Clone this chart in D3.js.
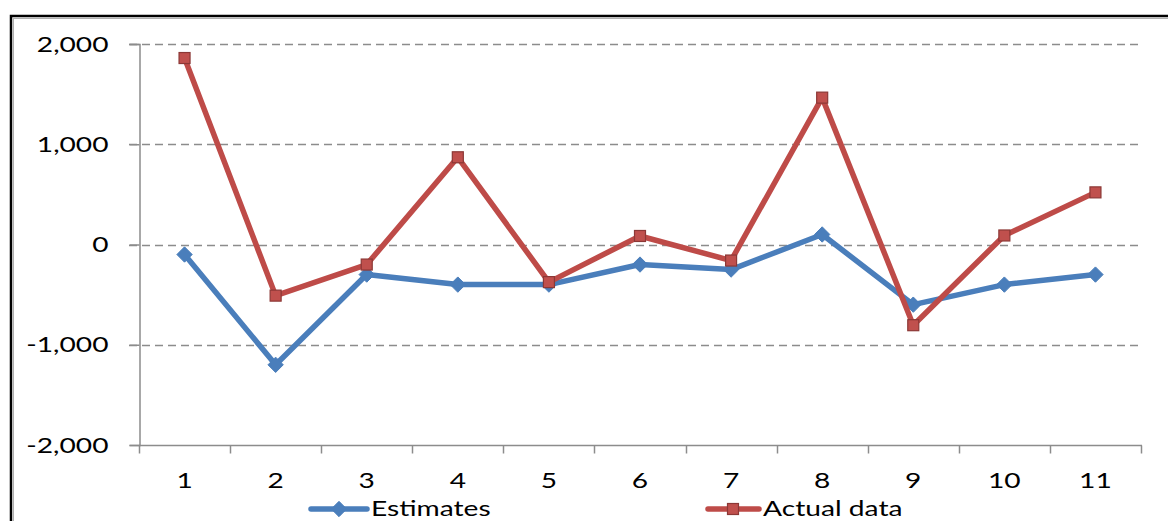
<!DOCTYPE html>
<html>
<head>
<meta charset="utf-8">
<script src="https://cdn.jsdelivr.net/npm/d3@7/dist/d3.min.js"></script>
<style>
  html, body { margin: 0; padding: 0; background: #fff; }
  svg { display: block; }
  text { font-family: Lato, "Open Sans", sans-serif; fill: #000; }
</style>
</head>
<body>
<svg id="chart" width="1168" height="521"></svg>
<script>
// Periods on the horizontal axis
const periods = ["1", "2", "3", "4", "5", "6", "7", "8", "9", "10", "11"];
// Estimated values per period
const estimates = [-100, -1200, -300, -400, -400, -200, -250, 100, -600, -400, -300];
// Observed values per period
const actualData = [1860, -510, -200, 870, -375, 85, -160, 1465, -805, 90, 520];
// Value axis ticks
const yTicks = [-2000, -1000, 0, 1000, 2000];
// Legend entries
const seriesNames = ["Estimates", "Actual data"];

const svg = d3.select("#chart");
const W = 1168, H = 521;
const stretch = 1.28; // horizontal widening of text glyphs

// Outer frame (runs past the right and bottom edges)
svg.append("rect").attr("x", 11).attr("y", 16).attr("width", W + 20).attr("height", H + 20)
  .attr("fill", "#fff").attr("stroke", "#000").attr("stroke-width", 2.5);
svg.append("rect").attr("x", 13.5).attr("y", 18.5).attr("width", W + 20).attr("height", H + 20)
  .attr("fill", "none").attr("stroke", "#b0b0b0").attr("stroke-width", 1);

const x = d3.scaleBand().domain(periods).range([139, 1141]).padding(0);
const y = d3.scaleLinear().domain([-2000, 2000]).range([445, 44]);

// Thousands separator with a plain hyphen for negatives
const fmt = d => d3.format(",")(d).replace("\u2212", "-");

// Dashed horizontal gridlines
svg.append("g").selectAll("line").data(yTicks.filter(d => d !== -2000)).join("line")
  .attr("x1", 129).attr("x2", 1142)
  .attr("y1", d => Math.round(y(d)) + 0.5).attr("y2", d => Math.round(y(d)) + 0.5)
  .attr("stroke", "#8c8c8c").attr("stroke-width", 1.5).attr("stroke-dasharray", "8,5");

// Y axis
const yAxis = svg.append("g").attr("transform", "translate(139.5,0)")
  .call(d3.axisLeft(y).tickValues(yTicks).tickSize(10).tickPadding(21).tickFormat(fmt));
yAxis.select(".domain").attr("stroke", "#8c8c8c").attr("stroke-width", 1.5);
yAxis.selectAll(".tick line").attr("stroke", "#8c8c8c").attr("stroke-width", 1.5);
yAxis.selectAll("text").attr("font-size", 22).attr("font-family", "Lato").attr("fill", "#000");

// X axis with ticks on band boundaries
const xAxisG = svg.append("g").attr("transform", "translate(0,445.5)");
xAxisG.append("line").attr("x1", 139).attr("x2", 1142).attr("stroke", "#8c8c8c").attr("stroke-width", 1.5);
const boundaries = periods.map(p => x(p)).concat([x.range()[1]]);
xAxisG.selectAll(".bt").data(boundaries).join("line").attr("class", "bt")
  .attr("x1", d => Math.round(d) + 0.5).attr("x2", d => Math.round(d) + 0.5)
  .attr("y1", 0).attr("y2", 8).attr("stroke", "#8c8c8c").attr("stroke-width", 1.5);
xAxisG.selectAll(".lbl").data(periods).join("text").attr("class", "lbl")
  .attr("x", d => x(d) + x.bandwidth() / 2).attr("y", 42)
  .attr("text-anchor", "middle").attr("font-size", 22).text(d => d);

const blue = "#4a7ebb", red = "#be4b48";
const line = d3.line().x((d, i) => x(periods[i]) + x.bandwidth() / 2).y(d => y(d));

// Estimates series
svg.append("path").datum(estimates).attr("d", line).attr("fill", "none")
  .attr("stroke", blue).attr("stroke-width", 5.5).attr("stroke-linejoin", "round");
const diamond = d3.symbol().type(d3.symbolDiamond2).size(150);
svg.append("g").selectAll("path").data(estimates).join("path")
  .attr("d", diamond)
  .attr("transform", (d, i) => `translate(${x(periods[i]) + x.bandwidth() / 2},${y(d)})`)
  .attr("fill", blue).attr("stroke", blue).attr("stroke-width", 1);

// Actual data series
svg.append("path").datum(actualData).attr("d", line).attr("fill", "none")
  .attr("stroke", red).attr("stroke-width", 5.5).attr("stroke-linejoin", "round");
svg.append("g").selectAll("rect").data(actualData).join("rect")
  .attr("x", (d, i) => x(periods[i]) + x.bandwidth() / 2 - 5.5)
  .attr("y", d => y(d) - 5.5).attr("width", 11).attr("height", 11)
  .attr("fill", "#c0504d").attr("stroke", "#8c3836").attr("stroke-width", 1.2);

// Legend
const legend = svg.append("g");
const e = legend.append("g");
e.append("line").attr("x1", 311).attr("x2", 367).attr("y1", 509).attr("y2", 509)
  .attr("stroke", blue).attr("stroke-width", 5.5).attr("stroke-linecap", "round");
e.append("path").attr("d", diamond).attr("transform", "translate(339,509)")
  .attr("fill", blue).attr("stroke", blue);
e.append("text").attr("x", 371).attr("y", 516).attr("font-size", 22).text(seriesNames[0]);
const a = legend.append("g");
a.append("line").attr("x1", 708).attr("x2", 759).attr("y1", 509).attr("y2", 509)
  .attr("stroke", red).attr("stroke-width", 5.5).attr("stroke-linecap", "round");
a.append("rect").attr("x", 727.5).attr("y", 503.5).attr("width", 11).attr("height", 11)
  .attr("fill", "#c0504d").attr("stroke", "#8c3836").attr("stroke-width", 1.2);
a.append("text").attr("x", 763).attr("y", 516).attr("font-size", 22).text(seriesNames[1]);

// Widen all glyphs horizontally
svg.selectAll("text").each(function () {
  const w = this.getComputedTextLength();
  this.setAttribute("textLength", (w * stretch).toFixed(1));
  this.setAttribute("lengthAdjust", "spacingAndGlyphs");
});
</script>
</body>
</html>
